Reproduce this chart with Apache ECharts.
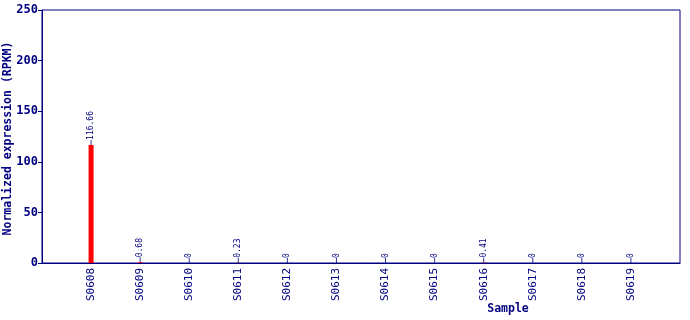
<!DOCTYPE html>
<html><head><meta charset="utf-8">
<script src="https://cdn.jsdelivr.net/npm/echarts@6/dist/echarts.min.js"></script>
<style>html,body{margin:0;padding:0;background:#fff}#c{width:690px;height:320px}</style>
</head><body><div id="c"></div>
<script>
var categories = ['S0608','S0609','S0610','S0611','S0612','S0613','S0614','S0615','S0616','S0617','S0618','S0619'];
var values = [116.66, 0.68, 0, 0.23, 0, 0, 0, 0, 0.41, 0, 0, 0];
var yTicks = [0, 50, 100, 150, 200, 250];

var navy = '#000080';
var font = 'DejaVu Sans Mono';
var cats = [''].concat(categories).concat(['']);
var data = [null].concat(values.map(function(v){return v;})).concat([null]);

var chart = echarts.init(document.getElementById('c'), null, {renderer:'canvas'});
chart.setOption({
  animation:false,
  grid:{left:42,right:10,top:10,bottom:57,outerBoundsMode:'none',containLabel:false,show:true,borderColor:navy,borderWidth:1,backgroundColor:'transparent'},
  xAxis:{
    type:'category', data:cats, boundaryGap:false,
    name:'Sample', nameLocation:'middle', nameGap:40, nameMoveOverlap:false,
    nameTextStyle:{color:navy,fontFamily:font,fontWeight:'bold',fontSize:11.5,padding:[0,0,0,294]},
    axisLine:{lineStyle:{color:navy}},
    axisTick:{show:false},
    axisLabel:{rotate:90,color:navy,fontFamily:font,fontSize:11,interval:0,margin:5},
    splitLine:{show:false}
  },
  yAxis:{
    type:'value', min:yTicks[0], max:yTicks[yTicks.length-1], interval:50,
    name:'Normalized expression (RPKM)', nameLocation:'middle', nameGap:27.5, nameMoveOverlap:false,
    nameTextStyle:{color:navy,fontFamily:font,fontWeight:'bold',fontSize:11.5,padding:[0,4,0,0]},
    axisLine:{show:true,lineStyle:{color:navy}},
    axisTick:{show:true,length:4,lineStyle:{color:navy}},
    axisLabel:{color:navy,fontFamily:font,fontWeight:'bold',fontSize:12,margin:4},
    splitLine:{show:false}
  },
  series:[{
    type:'bar', data:data, barWidth:5,
    itemStyle:{color:'#ff0000'},
    label:{show:true,position:'top',rotate:90,align:'left',verticalAlign:'middle',distance:5,
      color:navy,fontFamily:font,fontSize:8,
      formatter:function(p){return p.value==null?'':String(p.value);}}
  },{
    type:'scatter', data:data, symbol:'rect', symbolSize:[1,5], symbolOffset:[0,-2.5],
    itemStyle:{color:navy}, silent:true, z:3
  }]
});
</script>
</body></html>
